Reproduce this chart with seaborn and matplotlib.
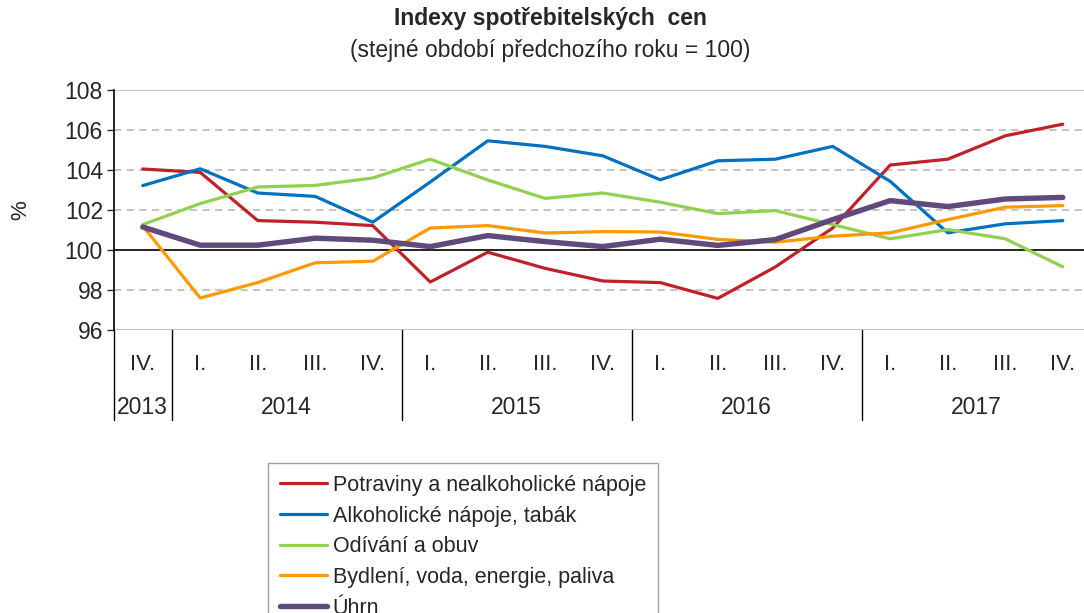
import numpy as np
import pandas as pd
import seaborn as sns
import matplotlib.pyplot as plt
import matplotlib.transforms as mtransforms

# data
quarters = ["IV.", "I.", "II.", "III.", "IV.", "I.", "II.", "III.", "IV.",
            "I.", "II.", "III.", "IV.", "I.", "II.", "III.", "IV."]
years = ["2013", "2014", "2015", "2016", "2017"]
year_spans = [(0, 0), (1, 4), (5, 8), (9, 12), (13, 16)]

potraviny = [104.05, 103.88, 101.47, 101.39, 101.22, 98.40, 99.89, 99.08, 98.45,
             98.37, 97.58, 99.15, 101.10, 104.25, 104.54, 105.71, 106.29]
alkohol = [103.22, 104.06, 102.85, 102.68, 101.39, 103.40, 105.46, 105.18, 104.71,
           103.51, 104.46, 104.54, 105.18, 103.43, 100.86, 101.31, 101.47]
odivani = [101.27, 102.32, 103.15, 103.23, 103.60, 104.54, 103.50, 102.58, 102.85,
           102.39, 101.82, 101.97, 101.27, 100.56, 101.02, 100.56, 99.16]
bydleni = [101.20, 97.60, 98.37, 99.36, 99.44, 101.10, 101.22, 100.85, 100.92,
           100.90, 100.53, 100.39, 100.69, 100.86, 101.52, 102.14, 102.22]
uhrn = [101.15, 100.24, 100.24, 100.59, 100.49, 100.17, 100.72, 100.42, 100.17,
        100.54, 100.23, 100.52, 101.52, 102.47, 102.17, 102.55, 102.63]

series_names = ["Potraviny a nealkoholické nápoje", "Alkoholické nápoje, tabák",
                "Odívání a obuv", "Bydlení, voda, energie, paliva", "Úhrn"]
series_values = [potraviny, alkohol, odivani, bydleni, uhrn]
colors = ["#C0202A", "#0070C0", "#92D050", "#FF9900", "#604A7B"]
widths = [2.3, 2.3, 2.3, 2.3, 3.9]

sns.set_style("white")
plt.rcParams["font.family"] = ["Liberation Sans", "DejaVu Sans"]

fig = plt.figure(figsize=(10.84, 6.13), dpi=100)
ax = fig.add_axes([114 / 1084, 1 - 330 / 613, 17 * 57.5 / 1084, 240 / 613])

x = np.arange(len(quarters))
for name, vals, c, lw in zip(series_names, series_values, colors, widths):
    df = pd.DataFrame({"x": x, "y": vals})
    sns.lineplot(data=df, x="x", y="y", ax=ax, color=c, linewidth=lw, label=name)

ax.set_xlim(-0.5, 16.5)
ax.set_ylim(96, 108)
ax.set_yticks(np.arange(96, 109, 2))
ax.set_xticks([])
ax.set_xlabel("")
ax.set_ylabel("%", fontsize=16)
ax.yaxis.set_label_coords(-0.085, 0.5)
ax.tick_params(axis="y", labelsize=16.5, length=5, width=1, direction="out", left=True, pad=3)

# gridlines
for v in [98, 102, 104, 106]:
    ax.axhline(v, color="#BFBFBF", linewidth=1.3, linestyle=(0, (4, 3)), zorder=0)
ax.axhline(108, color="#BFBFBF", linewidth=1.3, zorder=0)
ax.axhline(96, color="#BFBFBF", linewidth=1.3, zorder=0)
ax.axhline(100, color="black", linewidth=1.2, zorder=1)

for side in ["top", "right", "bottom"]:
    ax.spines[side].set_visible(False)
ax.spines["left"].set_color("black")
ax.spines["left"].set_linewidth(1.2)

# category table below the axis
trans = mtransforms.blended_transform_factory(ax.transData, ax.transAxes)
for i, q in enumerate(quarters):
    ax.text(i, -0.142, q, transform=trans, ha="center", va="center", fontsize=16)
for yr, (a, b) in zip(years, year_spans):
    ax.text((a + b) / 2, -0.325, yr, transform=trans, ha="center", va="center", fontsize=16.5)
for sep in [-0.5, 0.5, 4.5, 8.5, 12.5]:
    ax.plot([sep, sep], [0, -0.375], transform=trans, color="black",
            linewidth=1.0, clip_on=False)

fig.text(0.508, 1 - 19 / 613, "Indexy spotřebitelských  cen", ha="center", va="center",
         fontsize=16.5, fontweight="bold")
fig.text(0.508, 1 - 50 / 613, "(stejné období předchozího roku = 100)", ha="center",
         va="center", fontsize=16.5)

ax.get_legend().remove()
handles, labels = ax.get_legend_handles_labels()
leg = fig.legend(handles, labels, loc="upper left",
                 bbox_to_anchor=(268 / 1084, 1 - 463 / 613), fontsize=15.5,
                 frameon=True, fancybox=False, edgecolor="#888888",
                 handlelength=2.2, handletextpad=0.25, labelspacing=0.45,
                 borderpad=0.55, borderaxespad=0)
leg.get_frame().set_linewidth(1.0)

fig.savefig("out.png", dpi=100)
